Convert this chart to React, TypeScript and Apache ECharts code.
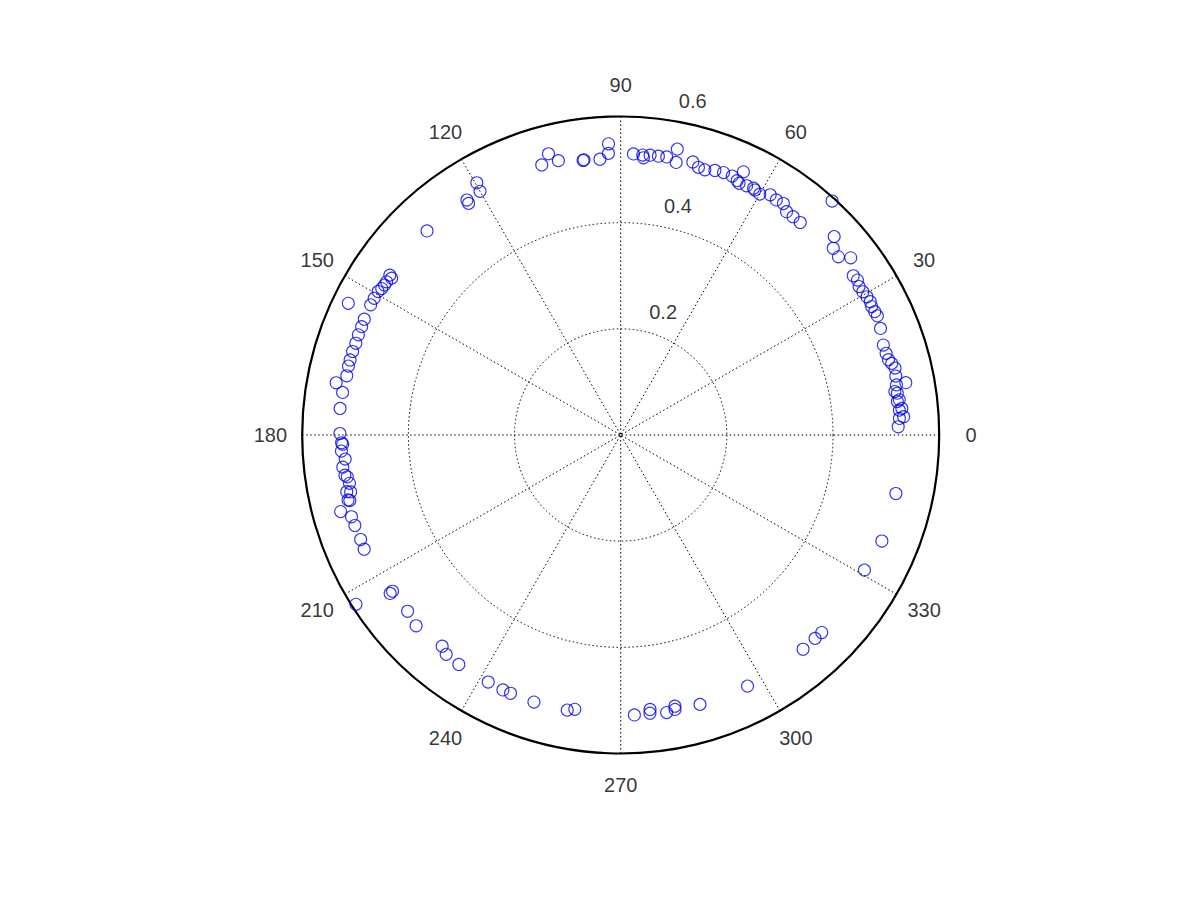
import React, { useEffect, useRef } from "react";
import * as echarts from "echarts";

// Angle ticks (degrees) and radial ticks
const angleTicks = [0, 30, 60, 90, 120, 150, 180, 210, 240, 270, 300, 330];
const radiusTicks = [0.2, 0.4, 0.6];
const radiusLabelAngle = 82;

// Data: angle (degrees) and radius
const theta = [
  1.7, 3.4, 3.7, 5.1, 5.4, 6.9, 7.2, 8.6, 9.0, 10.3, 10.4, 12.1, 13.7, 14.8, 15.7, 17.1, 18.9,
  22.3, 24.9, 25.9, 27.1, 28.1, 29.3, 30.6, 31.9, 33.2, 34.4, 37.6, 39.3, 41.3, 42.9, 47.9,
  49.8, 51.7, 53.4, 54.9, 56.5, 58.1, 60.0, 61.3, 61.7, 63.2, 64.8, 65.0, 65.4, 66.7, 68.6,
  70.4, 72.4, 73.8, 75.2, 78.5, 78.8, 80.6, 82.3, 84.0, 85.3, 85.5, 87.4, 92.4, 92.5, 94.3,
  97.6, 97.8, 102.8, 104.4, 106.3, 120.0, 119.7, 123.2, 123.3, 133.5, 145.3, 145.6, 146.8,
  147.6, 148.5, 149.4, 151.0, 152.5, 154.2, 155.7, 157.3, 159.1, 160.9, 162.7, 164.5, 165.8,
  167.8, 169.6, 171.3, 174.6, 179.7, 181.6, 181.9, 183.3, 185.0, 186.6, 188.3, 188.7, 190.1,
  191.7, 191.9, 193.4, 193.6, 195.3, 196.9, 198.8, 201.9, 204.0, 212.6, 214.4, 214.5, 219.6,
  223.0, 229.8, 231.5, 234.8, 241.8, 245.2, 246.9, 252.0, 259.0, 260.5, 272.8, 276.0, 276.1,
  279.4, 281.2, 281.3, 286.4, 296.8, 310.4, 313.7, 315.5, 331.0, 337.9, 348.0,
];
const rho = [
  0.523, 0.526, 0.534, 0.527, 0.532, 0.525, 0.529, 0.527, 0.523, 0.528, 0.546, 0.53, 0.532, 0.528, 0.524, 0.523, 0.523,
  0.529, 0.533, 0.532, 0.531, 0.533, 0.532, 0.53, 0.529, 0.533, 0.531, 0.547, 0.53, 0.533, 0.549, 0.594,
  0.524, 0.524, 0.524, 0.533, 0.531, 0.533, 0.524, 0.526, 0.528, 0.526, 0.524, 0.547, 0.527, 0.531, 0.531,
  0.529, 0.524, 0.525, 0.532, 0.524, 0.549, 0.531, 0.53, 0.53, 0.524, 0.529, 0.53, 0.549, 0.531, 0.521,
  0.523, 0.522, 0.53, 0.547, 0.53, 0.53, 0.547, 0.529, 0.522, 0.53, 0.529, 0.523, 0.527,
  0.527, 0.528, 0.531, 0.531, 0.531, 0.57, 0.53, 0.529, 0.529, 0.528, 0.529, 0.529, 0.529,
  0.528, 0.545, 0.53, 0.531, 0.529, 0.526, 0.524, 0.527, 0.521, 0.527, 0.525, 0.521, 0.519,
  0.527, 0.52, 0.528, 0.525, 0.547, 0.53, 0.529, 0.528, 0.529, 0.592, 0.521, 0.527, 0.521,
  0.527, 0.521, 0.528, 0.529, 0.528, 0.529, 0.529, 0.529, 0.528, 0.524, 0.528, 0.527, 0.52,
  0.53, 0.527, 0.521, 0.529, 0.53, 0.53, 0.53, 0.531, 0.525, 0.531, 0.53,
];

const FONT = '"Liberation Sans", Arial, Helvetica, sans-serif';
const RMAX = 0.6;

export default function App() {
  const ref = useRef<HTMLDivElement>(null);
  useEffect(() => {
    const chart = echarts.init(ref.current as HTMLDivElement, null, { renderer: "svg" });
    const points = theta.map((t, i) => [rho[i], t]);
    const rLabels = radiusTicks.map((v) => [v + 0.01, radiusLabelAngle, v]);
    const aLabels = angleTicks.map((a) => [RMAX * 1.1, a, a]);
    const dotted = { width: 1, type: [1.5, 2.5] };
    const textStyle = {
      color: "#000000",
      fontSize: 20,
      fontFamily: FONT,
      textBorderWidth: 0,
      textBorderColor: "transparent",
      textShadowBlur: 0,
    };
    chart.setOption({
      animation: false,
      backgroundColor: "#ffffff",
      polar: { center: [620.7, 435], radius: 318.5 },
      angleAxis: {
        type: "value",
        min: 0,
        max: 360,
        interval: 30,
        startAngle: 0,
        clockwise: false,
        axisLine: { show: true, lineStyle: { color: "#000", width: 2.2 } },
        axisTick: { show: false },
        axisLabel: { show: false },
        splitLine: { show: true, lineStyle: { color: "#000", ...dotted } },
      },
      radiusAxis: {
        type: "value",
        min: 0,
        max: RMAX,
        interval: 0.2,
        axisLine: { show: false },
        axisTick: { show: false },
        axisLabel: { show: false },
        splitLine: {
          show: true,
          lineStyle: { color: ["rgba(0,0,0,0)", "#000", "#000", "#000"], ...dotted },
        },
      },
      series: [
        {
          type: "scatter",
          coordinateSystem: "polar",
          data: points,
          symbol: "circle",
          symbolSize: 12,
          clip: false,
          silent: true,
          z: 5,
          itemStyle: { color: "rgba(0,0,0,0)", borderColor: "#0000ee", borderWidth: 1.1 },
        },
        {
          type: "scatter",
          coordinateSystem: "polar",
          data: rLabels,
          symbol: "circle",
          symbolSize: 1,
          clip: false,
          silent: true,
          itemStyle: { color: "rgba(0,0,0,0)" },
          label: {
            show: true,
            position: "inside",
            align: "left",
            verticalAlign: "bottom",
            offset: [13, -3],
            ...textStyle,
            formatter: (p: any) => String(p.value[2]),
          },
        },
        {
          type: "scatter",
          coordinateSystem: "polar",
          data: aLabels,
          symbol: "circle",
          symbolSize: 1,
          clip: false,
          silent: true,
          itemStyle: { color: "rgba(0,0,0,0)" },
          label: {
            show: true,
            position: "inside",
            align: "center",
            verticalAlign: "middle",
            ...textStyle,
            formatter: (p: any) => String(p.value[2]),
          },
        },
      ],
    });
    return () => chart.dispose();
  }, []);
  return (
    <div
      ref={ref}
      style={{ position: "fixed", left: 0, top: 0, width: 1201, height: 901, background: "#fff" }}
    />
  );
}
